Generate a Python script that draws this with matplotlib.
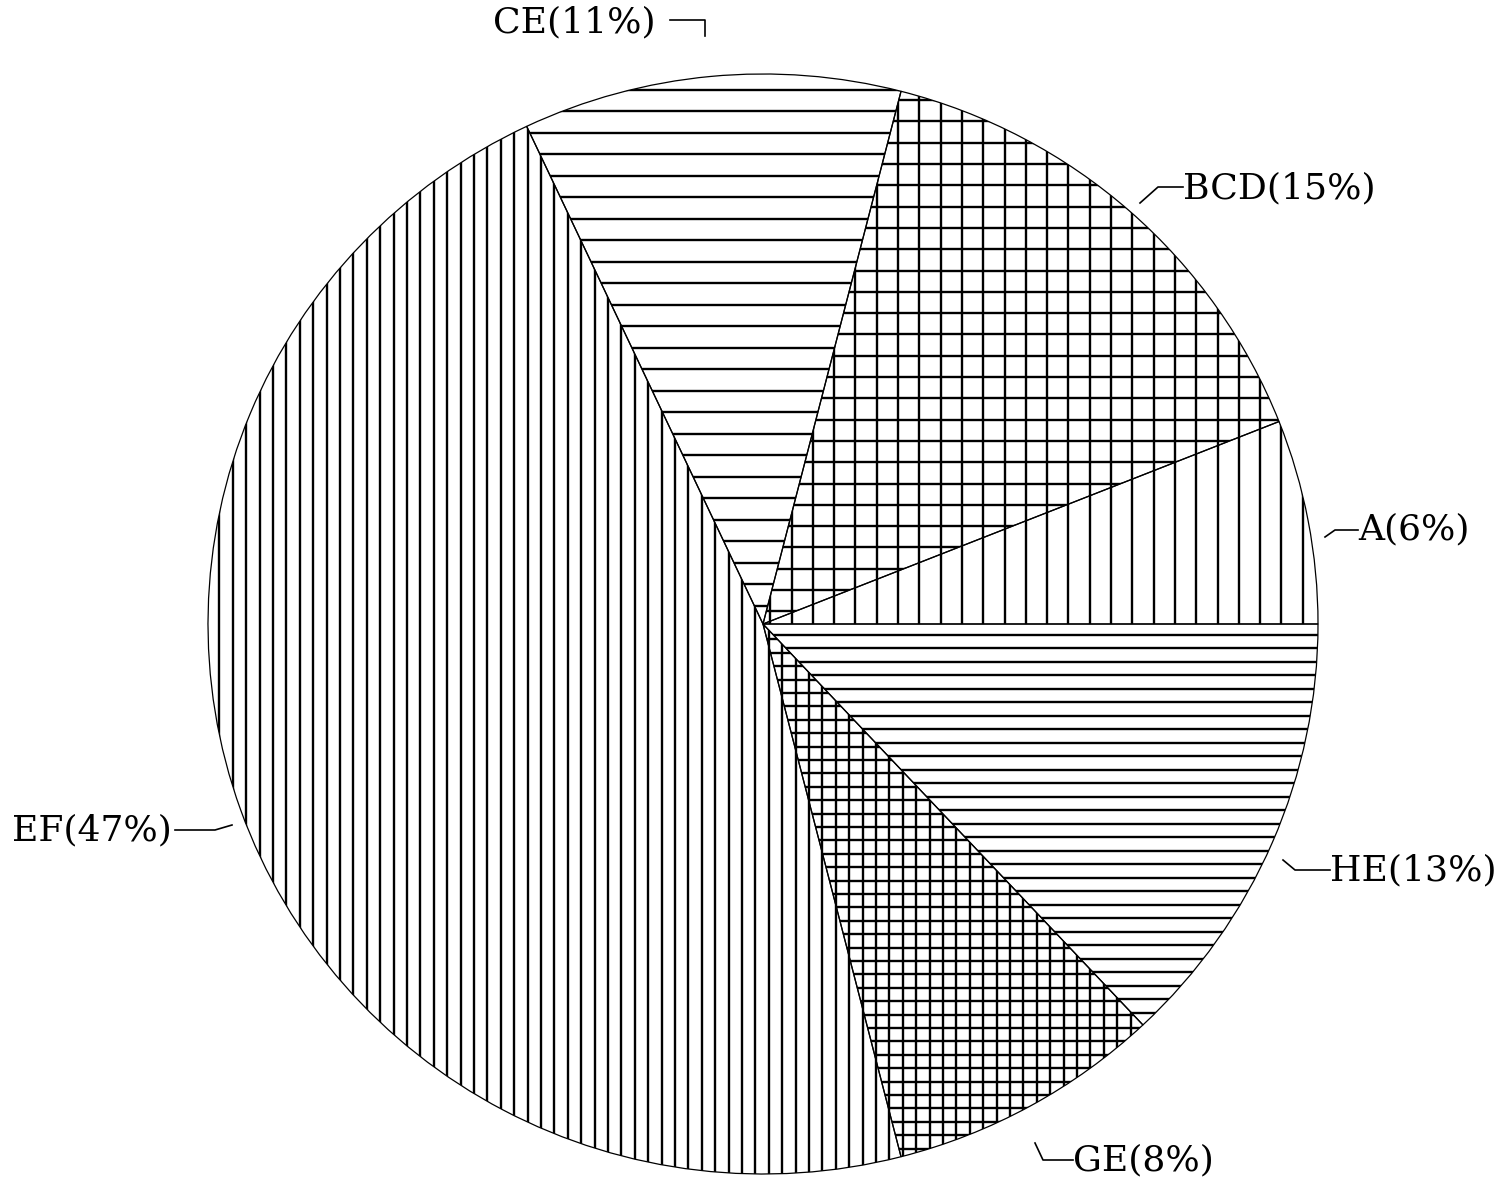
import numpy as np
import matplotlib
matplotlib.use("Agg")
import matplotlib.pyplot as plt
from matplotlib.collections import LineCollection

# ---- data ----
labels = ["A", "BCD", "CE", "EF", "GE", "HE"]
shares = [6, 15, 11, 47, 8, 13]

# ---- styles ----
hatch_kind = ["v", "grid", "h", "v", "grid", "h"]
hatch_gap_px = [21.3, 21.3, 21.5, 13.4, 13.4, 13.5]

# label layout (pixel coordinates in the 1503x1193 image)
label_pos = {
    "CE": (493, 22),
    "BCD": (1183, 188),
    "A": (1358, 529),
    "HE": (1330, 870),
    "GE": (1073, 1160),
    "EF": (12, 830),
}
leader_px = {
    "CE": [(670, 20), (705, 20), (705, 36)],
    "BCD": [(1140, 203), (1158, 187), (1183, 187)],
    "A": [(1325, 537), (1335, 530), (1358, 530)],
    "HE": [(1283, 860), (1295, 870), (1330, 870)],
    "GE": [(1035, 1143), (1043, 1160), (1073, 1160)],
    "EF": [(175, 830), (215, 830), (232, 825)],
}

W, H = 1503, 1193
CX, CY = 763, 624
SX, SY = 555.0, 550.0


def px(x, y):
    return (x - CX) / SX, (CY - y) / SY


fig = plt.figure(figsize=(W / 100, H / 100), dpi=100)
ax = fig.add_axes([0, 0, 1, 1])

wedges, _ = ax.pie(
    shares,
    startangle=0,
    counterclock=True,
    radius=1.0,
    center=(0, 0),
    wedgeprops=dict(facecolor="white", edgecolor="black", linewidth=0.9),
)
ax.set_aspect("auto")
ax.set_xlim(-CX / SX, (W - CX) / SX)
ax.set_ylim(-(H - CY) / SY, CY / SY)
ax.axis("off")

for w, kind, gap in zip(wedges, hatch_kind, hatch_gap_px):
    segs = []
    if kind in ("v", "grid"):
        g = gap / SX
        for x in np.arange(-1.1, 1.1, g):
            segs.append([(x, -1.1), (x, 1.1)])
    if kind in ("h", "grid"):
        g = gap / SY
        for y in np.arange(-1.1, 1.1, g):
            segs.append([(-1.1, y), (1.1, y)])
    lc = LineCollection(segs, colors="black", linewidths=1.7, zorder=w.get_zorder() + 0.1)
    ax.add_collection(lc)
    lc.set_clip_path(w)

# redraw wedge outlines on top
for w in wedges:
    w.set_zorder(3)
    w.set_facecolor("none")

for lab, share in zip(labels, shares):
    x, y = px(*label_pos[lab])
    ax.text(x, y, f"{lab}({share}%)", ha="left", va="center",
            fontsize=26, family="DejaVu Serif", color="black")
    pts = [px(*p) for p in leader_px[lab]]
    ax.plot([p[0] for p in pts], [p[1] for p in pts], color="black", lw=1.2)

fig.savefig("out.png", dpi=100, facecolor="white")
